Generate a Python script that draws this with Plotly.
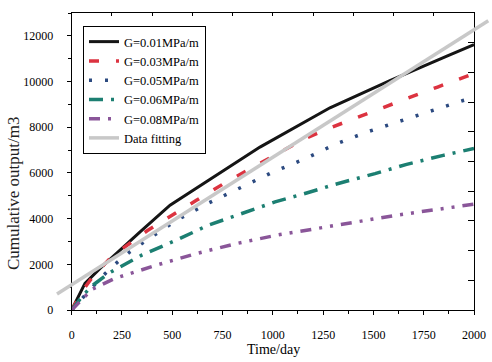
import plotly.graph_objects as go

# ---------------- data ----------------
days_g001 = [0, 66, 141, 240, 340, 489, 628, 936, 1284, 1582, 1871, 2000]
out_g001 = [0, 1166, 1820, 2620, 3420, 4585, 5385, 7130, 8850, 10044, 11135, 11616]

days_g003 = [0, 50, 100, 200, 375, 500, 620, 763, 897, 1155, 1297, 1424, 1558, 1687, 1819, 2000]
out_g003 = [0, 800, 1400, 2350, 3470, 4130, 4800, 5570, 6220, 7485, 8015, 8450, 8885, 9325, 9760, 10350]

days_g005 = [0, 60, 100, 150, 215, 290, 373, 522, 678, 845, 1001, 1160, 1317, 1467, 1632, 1782, 1946, 2000]
out_g005 = [0, 580, 1020, 1455, 2000, 2550, 3057, 3930, 4670, 5385, 6040, 6620, 7280, 7790, 8250, 8700, 9170, 9300]

days_g006 = [0, 50, 100, 182, 348, 538, 678, 853, 1011, 1168, 1309, 1508, 1665, 1847, 2000]
out_g006 = [0, 580, 1050, 1600, 2400, 3130, 3710, 4265, 4730, 5120, 5500, 5970, 6375, 6770, 7070]

days_g008 = [0, 41, 100, 215, 422, 621, 820, 1019, 1218, 1417, 1616, 1814, 2000]
out_g008 = [0, 360, 900, 1385, 1965, 2475, 2910, 3275, 3565, 3860, 4150, 4400, 4630]

fit_days = [-73, 2071]
fit_out = [700, 12660]

x_ticks = [0, 250, 500, 750, 1000, 1250, 1500, 1750, 2000]
y_ticks = [0, 2000, 4000, 6000, 8000, 10000, 12000]

# ---------------- layout geometry ----------------
W, H = 492, 362
ML, MR, MT, MB = 56, 2, 13, 52
PW = W - ML - MR
PH = H - MT - MB
ax_left_px, ax_right_px = 71.7, 474.0
d0 = (ax_left_px - ML) / PW
d1 = (ax_right_px - ML) / PW
X0, X1 = 0, 2000
span = X1 - X0
x2_range = [X0 - d0 / (d1 - d0) * span, X1 + (1 - d1) / (d1 - d0) * span]
Y_RANGE = [0, 13000]

FONT = "Liberation Serif, Times New Roman, serif"

series = [
    ("G=0.01MPa/m", days_g001, out_g001, "#151515", "solid", 3),
    ("G=0.03MPa/m", days_g003, out_g003, "#dc3340", "10px,17px", 3.5),
    ("G=0.05MPa/m", days_g005, out_g005, "#2c4a80", "3px,13px", 3.5),
    ("G=0.06MPa/m", days_g006, out_g006, "#1c7f72", "14px,8px,3px,8px", 3.5),
    ("G=0.08MPa/m", days_g008, out_g008, "#8a5699", "11px,8px,3px,8px,3px,8px", 3.5),
]

fig = go.Figure()
for name, xs, ys, col, dash, w in series:
    fig.add_trace(go.Scatter(x=xs, y=ys, mode="lines", name=name,
                             line=dict(color=col, dash=dash, width=w)))

fig.add_trace(go.Scatter(x=fit_days, y=fit_out, mode="lines", name="Data fitting",
                         xaxis="x2", yaxis="y",
                         line=dict(color="#c8c8c8", width=3.5)))

fig.update_layout(
    width=W, height=H,
    margin=dict(l=ML, r=MR, t=MT, b=MB, pad=0, autoexpand=False),
    paper_bgcolor="white",
    plot_bgcolor="rgba(0,0,0,0)",
    font=dict(family=FONT, size=12, color="black"),
    showlegend=True,
    legend=dict(
        x=(83 - ML) / PW, y=1 - (26 - MT) / PH,
        xanchor="left", yanchor="top",
        bgcolor="white", bordercolor="black", borderwidth=1,
        font=dict(family=FONT, size=12.5, color="black"),
        tracegroupgap=0, itemwidth=30,
    ),
    xaxis=dict(
        domain=[d0, d1], range=[X0, X1], anchor="y", automargin=False,
        tickvals=x_ticks, ticktext=[str(v) for v in x_ticks],
        ticks="outside", ticklen=4, tickcolor="black", tickwidth=1,
        showline=True, linecolor="black", linewidth=1.2,
        showgrid=False, zeroline=False,
        ticklabelstandoff=9,
        minor=dict(ticks="outside", ticklen=2.5, dtick=125, tick0=0, tickcolor="black", showgrid=False),
        tickfont=dict(size=12),
    ),
    xaxis2=dict(domain=[0, 1], range=x2_range, anchor="y", visible=False, automargin=False,
                showgrid=False, zeroline=False),
    xaxis3=dict(overlaying="x", side="top", anchor="y", range=[X0, X1], automargin=False,
                dtick=200, tick0=0, ticks="inside", ticklen=3, tickcolor="black",
                showticklabels=False, showline=True, linecolor="black", linewidth=1.2,
                showgrid=False, zeroline=False),
    yaxis=dict(
        domain=[0, 1], range=Y_RANGE, anchor="x", automargin=False,
        tickvals=y_ticks, ticktext=[str(v) for v in y_ticks],
        ticks="outside", ticklen=4, tickcolor="black", tickwidth=1,
        showline=True, linecolor="black", linewidth=1.2,
        showgrid=False, zeroline=False,
        ticklabelstandoff=11,
        minor=dict(ticks="outside", ticklen=2.5, dtick=1000, tick0=0, tickcolor="black", showgrid=False),
        tickfont=dict(size=12),
    ),
    yaxis3=dict(overlaying="y", side="right", anchor="x", range=Y_RANGE, automargin=False,
                dtick=1300, tick0=0, ticks="inside", ticklen=6, tickcolor="black",
                showticklabels=False, showline=True, linecolor="black", linewidth=1.2,
                showgrid=False, zeroline=False),
    annotations=[
        dict(text="Time/day", xref="paper", yref="paper",
             x=(273 - ML) / PW, y=-(349 - (H - MB)) / PH,
             xanchor="center", yanchor="middle", showarrow=False,
             font=dict(family=FONT, size=14)),
        dict(text="Cumulative output/m3", xref="paper", yref="paper",
             x=(13 - ML) / PW, y=((H - MB) - 194) / PH,
             xanchor="center", yanchor="middle", showarrow=False, textangle=-90,
             font=dict(family=FONT, size=17, color="#222222")),
    ],
)

# make the secondary top/right axes appear
fig.add_trace(go.Scatter(x=[None], y=[None], xaxis="x3", yaxis="y", showlegend=False, hoverinfo="skip"))
fig.add_trace(go.Scatter(x=[None], y=[None], xaxis="x", yaxis="y3", showlegend=False, hoverinfo="skip"))

fig.write_html("out.html", config={"displayModeBar": False},
               post_script="document.body.style.margin='0';document.body.style.overflow='hidden';")
